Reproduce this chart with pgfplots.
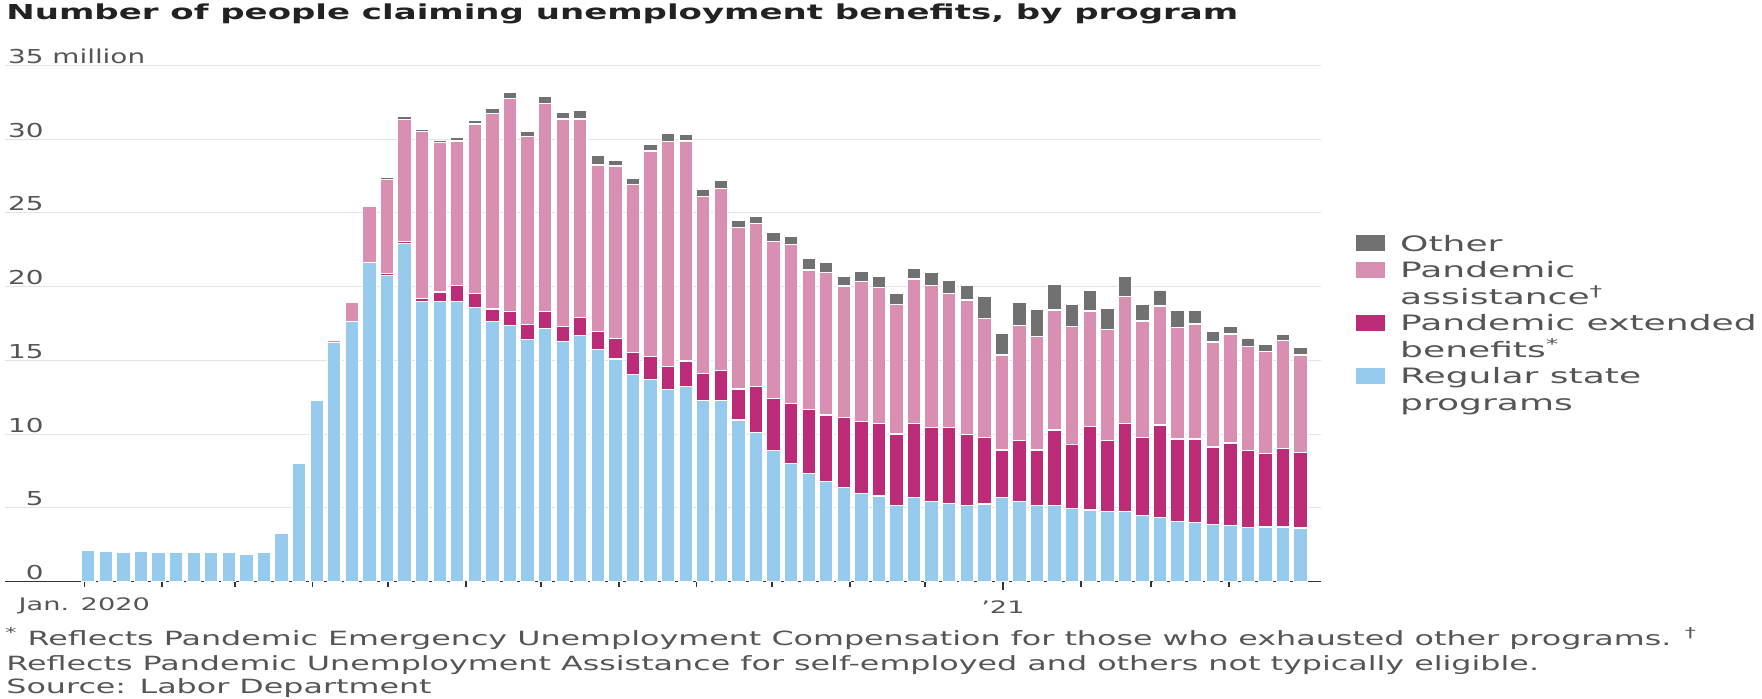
\documentclass[border=0pt]{standalone}
\usepackage{pgfplots}
\usepackage{pgfplotstable}
\pgfplotsset{compat=1.18}
\usepackage{fontspec}
\setmainfont{DejaVu Sans}
\newfontfamily\titlefont[FakeStretch=1.65]{DejaVu Sans Bold}
\newfontfamily\legfont[FakeStretch=1.7]{DejaVu Sans}
\newfontfamily\ytfont[FakeStretch=1.45]{DejaVu Sans}
\newfontfamily\xtfont[FakeStretch=1.58]{DejaVu Sans}
\newfontfamily\notefont[FakeStretch=1.62]{DejaVu Sans}

\definecolor{cReg}{HTML}{97CBED}
\definecolor{cExt}{HTML}{BC2B78}
\definecolor{cAss}{HTML}{D98FB1}
\definecolor{cOth}{HTML}{717171}
\definecolor{cGrid}{HTML}{E3E3E3}
\definecolor{cAxis}{HTML}{333333}
\definecolor{cText}{HTML}{555555}
\definecolor{cTitle}{HTML}{222222}

\pgfplotstableread{
i reg ext ass oth
0 2.15 0 0 0
1 2.03 0 0 0
2 1.97 0 0 0
3 2.03 0 0 0
4 1.97 0 0 0
5 1.97 0 0 0
6 1.97 0 0 0
7 1.97 0 0 0
8 1.97 0 0 0
9 1.88 0 0 0
10 1.97 0 0 0
11 3.28 0 0 0
12 8.02 0 0 0
13 12.27 0 0 0
14 16.20 0 0.18 0
15 17.63 0 1.31 0
16 21.63 0 3.79 0.12
17 20.75 0.15 6.38 0.13
18 22.94 0.15 8.25 0.19
19 18.98 0.20 11.32 0.17
20 18.98 0.66 10.12 0.14
21 18.98 1.13 9.77 0.24
22 18.58 0.97 11.48 0.22
23 17.63 0.86 13.26 0.34
24 17.36 0.95 14.46 0.38
25 16.43 1.02 12.72 0.34
26 17.18 1.13 14.12 0.45
27 16.27 1.06 14.04 0.45
28 16.72 1.20 13.45 0.56
29 15.75 1.20 11.30 0.63
30 15.10 1.40 11.68 0.41
31 14.06 1.47 11.41 0.40
32 13.72 1.53 13.95 0.45
33 13.04 1.54 15.25 0.57
34 13.22 1.74 14.92 0.45
35 12.27 1.85 11.98 0.50
36 12.27 2.03 12.37 0.52
37 10.96 2.10 10.94 0.52
38 10.10 3.12 11.07 0.50
39 8.88 3.55 10.62 0.61
40 8.02 4.07 10.80 0.50
41 7.34 4.34 9.45 0.79
42 6.78 4.52 9.65 0.70
43 6.40 4.72 8.93 0.67
44 5.99 4.86 9.49 0.68
45 5.81 4.92 9.22 0.73
46 5.15 4.86 8.79 0.75
47 5.72 5.01 9.79 0.72
48 5.42 5.02 9.67 0.84
49 5.31 5.13 9.11 0.90
50 5.15 4.84 9.11 0.97
51 5.27 4.49 8.09 1.47
52 5.72 3.21 6.44 1.47
53 5.42 4.18 7.76 1.58
54 5.15 3.78 7.68 1.85
55 5.15 5.13 8.14 1.76
56 4.97 4.34 7.98 1.53
57 4.86 5.69 7.80 1.42
58 4.75 4.85 7.51 1.42
59 4.75 5.98 8.59 1.40
60 4.47 5.29 7.91 1.15
61 4.36 6.26 8.07 1.08
62 4.07 5.60 7.57 1.13
63 4.01 5.66 7.80 0.90
64 3.90 5.23 7.12 0.70
65 3.81 5.59 7.39 0.52
66 3.70 5.20 7.04 0.55
67 3.71 4.97 6.91 0.50
68 3.71 5.31 7.32 0.43
69 3.64 5.11 6.62 0.54
}\claims

\begin{document}
\begin{tikzpicture}
\useasboundingbox (0,0) rectangle (881pt,349pt);
\begin{axis}[
  at={(2.5pt,58.15pt)}, anchor=south west,
  width=658pt, height=258.1pt, scale only axis,
  xmin=-4.74, xmax=70.16, ymin=0, ymax=35,
  ybar stacked, bar width=0.77,
  axis x line*=bottom, axis y line*=left,
  y axis line style={draw=none},
  x axis line style={draw=cAxis, line width=0.75pt},
  ytick={0,5,10,15,20,25,30,35},
  yticklabels={0,5,10,15,20,25,30,35\rlap{ million}},
  ymajorgrids, grid style={cGrid, line width=0.5pt},
  ytick style={draw=none},
  yticklabel style={anchor=base east, inner sep=0pt, xshift=22pt, yshift=1pt,
    font=\ytfont\fontsize{9.6}{11}\selectfont, text=cText},
  xtick={-0.228,4.201,8.344,12.772,17.058,21.487,25.772,30.201,34.629,38.915,43.344,47.629,56.487,60.487,64.915},
  xticklabels={Jan. 2020,,,,,,,,,,,,,,},
  extra x ticks={52.058},
  extra x tick labels={’21},
  extra x tick style={major tick length=4pt},
  tick align=outside, major tick length=2.5pt,
  xtick style={draw=cAxis, line width=0.75pt},
  xticklabel style={anchor=base, inner sep=0pt, yshift=-12pt,
    font=\xtfont\fontsize{8.6}{10}\selectfont, text=cText},
  legend style={at={(1,1)}, anchor=north west, xshift=17.5pt, yshift=-83.75pt,
    draw=none, fill=none, inner sep=0pt, row sep=0pt, column sep=7.5pt,
    nodes={inner sep=0pt, text height=9pt, text depth=4.25pt, text=cText,
      font=\legfont\fontsize{10.6}{12}\selectfont}},
  legend cell align=left,
]
\addplot[fill=cReg, draw=white, line width=0.6pt, forget plot] table[x=i, y=reg] {\claims};
\addplot[fill=cExt, draw=white, line width=0.6pt, forget plot] table[x=i, y=ext] {\claims};
\addplot[fill=cAss, draw=white, line width=0.6pt, forget plot] table[x=i, y=ass] {\claims};
\addplot[fill=cOth, draw=white, line width=0.6pt, forget plot] table[x=i, y=oth] {\claims};

\addlegendimage{legend image code/.code={\fill[cOth] (0pt,-1.875pt) rectangle (14pt,5.625pt);}}
\addlegendentry{Other}
\addlegendimage{legend image code/.code={\fill[cAss] (0pt,-1.875pt) rectangle (14pt,5.625pt);}}
\addlegendentry{Pandemic}
\addlegendimage{empty legend}
\addlegendentry{assistance\textsuperscript{†}}
\addlegendimage{legend image code/.code={\fill[cExt] (0pt,-1.875pt) rectangle (14pt,5.625pt);}}
\addlegendentry{Pandemic extended}
\addlegendimage{empty legend}
\addlegendentry{benefits\textsuperscript{*}}
\addlegendimage{legend image code/.code={\fill[cReg] (0pt,-1.875pt) rectangle (14pt,5.625pt);}}
\addlegendentry{Regular state}
\addlegendimage{empty legend}
\addlegendentry{programs}
\end{axis}
\node[anchor=base west, inner sep=0pt, text=cTitle, font=\titlefont\fontsize{10.3}{12}\selectfont] at (3pt,339pt)
  {Number of people claiming unemployment benefits, by program};
\node[anchor=base west, inner sep=0pt, text=cText, font=\notefont\fontsize{9.8}{11}\selectfont] at (2.5pt,26.5pt)
  {\textsuperscript{*} Reflects Pandemic Emergency Unemployment Compensation for those who exhausted other programs. \textsuperscript{†}};
\node[anchor=base west, inner sep=0pt, text=cText, font=\notefont\fontsize{9.8}{11}\selectfont] at (3pt,14pt)
  {Reflects Pandemic Unemployment Assistance for self-employed and others not typically eligible.};
\node[anchor=base west, inner sep=0pt, text=cText, font=\notefont\fontsize{9.8}{11}\selectfont] at (3pt,2.5pt)
  {Source: Labor Department};
\end{tikzpicture}
\end{document}
